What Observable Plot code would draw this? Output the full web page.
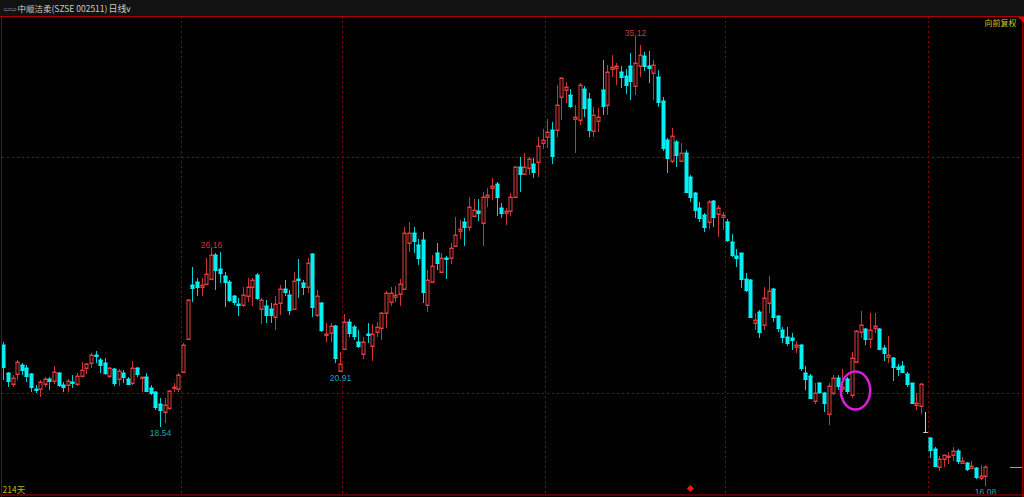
<!DOCTYPE html>
<html><head><meta charset="utf-8">
<script src="https://cdn.jsdelivr.net/npm/d3@7"></script>
<script src="https://cdn.jsdelivr.net/npm/@observablehq/plot@0.6"></script>
<style>html,body{margin:0;padding:0;background:#000;overflow:hidden}</style>
</head><body><div id="chart"></div>
<script>
const opens = [22.03,20.86,20.38,20.81,21.19,21.05,20.79,20.18,20.16,20.38,
20.61,20.52,20.86,20.34,20.34,20.48,20.37,20.74,21.05,21.26,
21.62,21.40,21.26,20.72,21.00,20.58,20.83,20.58,20.44,21.07,
20.62,20.69,20.21,20.06,19.53,19.21,19.35,20.20,20.16,20.90,
22.28,24.58,24.72,24.51,24.62,24.83,25.85,25.24,24.97,24.72,
24.11,23.77,23.73,24.11,24.48,25.00,23.55,23.69,23.55,23.24,
23.83,24.40,24.16,23.55,24.83,24.65,24.51,25.89,23.31,23.83,
22.45,22.53,22.84,20.95,21.85,23.02,22.78,22.18,21.65,22.50,
22.01,22.60,22.77,23.38,23.87,24.06,24.18,24.39,26.37,26.77,
26.27,26.49,23.73,24.72,25.92,25.14,25.74,25.71,26.25,26.85,
27.25,27.05,27.50,27.70,27.19,28.32,28.67,28.86,27.83,27.62,
27.70,28.32,29.59,29.28,29.52,29.70,29.80,30.58,30.86,31.14,
31.14,32.53,32.84,32.63,31.62,31.57,32.87,32.44,31.12,31.53,
32.84,32.20,33.72,33.79,33.59,33.44,33.86,32.99,33.86,34.26,
33.86,33.55,33.38,32.39,30.72,29.84,30.65,29.85,30.19,29.14,
28.49,27.83,27.54,27.26,28.14,27.59,27.45,27.26,26.41,25.82,
25.92,24.82,24.79,22.98,23.44,22.88,23.80,24.39,23.26,22.67,
22.39,22.31,21.96,22.03,20.86,20.72,19.67,20.41,19.98,19.11,
20.01,20.62,20.15,20.58,19.91,21.33,22.60,22.70,22.27,22.74,
22.70,21.89,21.51,21.47,21.11,21.15,20.81,20.41,19.50,19.45,
18.35,18.11,17.62,16.88,17.19,17.28,17.36,17.55,17.02,17.02,
16.81,16.81,16.39,16.49];
const closes = [21.09,20.52,20.62,21.30,20.97,20.72,20.27,20.13,20.48,20.58,
20.52,20.90,20.34,20.24,20.51,20.44,20.72,20.97,21.22,21.61,
21.57,21.20,20.86,21.05,20.44,20.92,20.66,20.38,21.07,20.81,
20.66,20.10,20.02,19.42,19.28,19.49,20.09,20.24,20.76,22.03,
23.94,24.44,24.51,24.58,25.05,25.85,25.22,25.10,24.72,23.94,
23.87,23.75,24.16,24.51,24.79,24.01,23.92,23.31,23.31,23.77,
24.40,24.30,23.52,24.75,24.79,24.48,25.50,23.66,24.13,22.67,
22.50,22.86,21.49,21.22,23.02,22.56,22.42,22.01,22.18,22.46,
22.50,22.78,23.38,24.23,24.25,24.17,24.62,26.80,26.77,26.46,
25.71,24.30,24.79,25.38,25.50,25.71,25.69,26.13,26.70,26.97,
27.05,27.87,27.76,27.64,28.32,28.39,28.77,28.32,27.62,27.73,
28.32,29.56,29.27,29.56,29.90,29.38,30.47,30.72,31.07,30.04,
32.20,33.33,32.95,32.16,31.68,33.05,32.06,31.14,31.78,31.71,
32.17,33.62,33.80,33.86,33.41,33.06,33.24,34.00,34.33,33.86,
33.76,33.90,32.35,30.37,29.94,30.89,30.08,30.16,28.53,28.32,
27.76,27.40,27.05,28.11,27.45,27.83,27.53,26.49,25.85,25.74,
24.82,24.37,23.24,23.09,22.60,24.01,24.33,23.23,22.74,22.39,
22.10,22.24,22.03,21.04,20.58,19.80,20.01,20.05,19.59,20.29,
20.62,20.29,20.27,20.10,21.47,22.64,22.88,22.27,22.67,22.84,
21.85,21.68,21.61,21.11,21.03,20.91,20.39,19.57,19.59,20.37,
18.35,17.59,16.91,17.21,17.36,17.33,17.55,17.14,17.11,16.80,
16.91,16.46,16.49,16.88];
const highs = [22.18,20.90,20.76,21.40,21.26,21.19,20.83,20.34,20.55,20.69,
20.69,21.14,20.90,20.48,20.58,20.76,20.83,21.33,21.29,21.68,
21.79,21.47,21.47,21.12,21.05,21.00,20.97,20.69,21.37,21.12,
20.66,20.83,20.34,20.10,19.77,19.77,20.13,20.41,20.86,22.11,
23.99,25.36,24.86,24.86,25.71,26.16,25.92,25.99,25.14,24.79,
24.16,24.01,24.51,24.86,24.86,25.10,24.01,23.94,23.80,24.09,
24.58,24.79,24.37,25.14,25.67,24.79,25.71,25.95,24.37,23.87,
22.96,22.98,22.88,21.75,23.35,23.12,22.88,22.67,22.39,22.98,
22.93,23.02,23.45,24.34,24.48,24.54,24.82,27.02,27.26,27.02,
26.51,26.84,25.21,25.85,26.37,25.92,25.81,26.37,27.45,27.33,
27.40,28.30,28.20,28.20,28.53,28.67,29.10,28.95,28.04,27.83,
28.46,29.62,29.99,30.16,29.99,29.94,30.86,31.17,31.60,31.50,
33.05,33.40,33.19,32.87,32.20,33.12,33.01,32.70,32.13,32.06,
34.11,33.90,34.33,34.00,33.87,33.73,34.40,35.12,34.75,34.43,
34.51,34.09,33.69,32.56,30.79,31.21,30.72,30.58,30.30,29.24,
28.53,28.11,27.62,28.18,28.18,27.97,27.69,27.36,26.74,26.09,
25.95,25.07,24.82,23.37,23.52,24.48,24.96,24.43,23.30,22.78,
22.81,22.55,22.22,22.07,21.14,20.80,20.44,20.48,20.05,20.44,
20.76,20.76,21.00,20.66,21.75,22.67,23.49,22.74,23.40,23.40,
22.74,22.03,22.41,21.54,21.23,21.37,20.91,20.44,19.99,20.41,
19.21,18.15,17.73,17.31,17.38,17.48,17.70,17.62,17.28,17.09,
17.14,16.85,16.95,16.95];
const lows = [20.55,20.24,20.27,20.55,20.76,20.48,20.06,19.99,19.85,20.27,
20.13,20.38,20.27,20.06,20.06,20.20,20.30,20.66,20.81,21.05,
21.26,20.86,20.76,20.62,20.30,20.30,20.41,20.37,20.34,20.69,
20.06,20.06,19.92,19.28,18.54,18.74,19.28,20.06,20.06,20.90,
22.25,23.87,24.09,24.09,24.58,24.79,24.37,24.65,23.66,23.87,
23.73,23.27,23.66,23.87,23.69,23.94,22.93,22.98,22.98,22.67,
23.31,24.09,23.31,23.52,24.01,24.16,24.23,23.21,23.21,22.60,
22.18,22.18,21.26,20.91,21.82,22.36,22.25,21.89,21.43,22.13,
21.36,22.39,22.25,22.74,23.69,23.87,23.69,24.37,25.99,25.92,
25.43,23.83,23.45,24.72,25.21,25.07,24.82,25.47,26.25,26.51,
26.23,26.88,27.45,27.30,26.23,27.90,28.18,27.50,27.40,27.12,
27.50,28.25,28.53,29.24,29.24,29.10,29.17,30.33,30.37,29.70,
30.86,31.57,32.27,32.06,30.16,31.36,31.71,30.86,30.86,31.07,
31.78,31.78,33.41,33.06,32.91,32.67,32.42,32.63,33.41,33.66,
33.15,32.42,32.11,30.27,29.31,29.73,29.56,29.80,28.46,28.11,
27.40,27.26,26.84,26.94,27.05,26.63,26.91,26.41,25.78,25.36,
24.44,24.30,23.21,22.67,22.31,22.67,23.37,23.02,22.60,22.13,
21.99,21.82,21.68,20.94,20.12,19.77,19.53,19.96,19.21,18.64,
19.91,20.13,20.05,19.96,19.77,21.28,22.31,22.03,21.89,22.53,
21.82,21.37,21.28,20.52,20.72,20.84,20.27,19.54,19.28,19.11,
18.34,17.24,16.88,16.71,16.88,17.00,17.14,17.00,17.00,16.71,
16.77,16.35,16.32,16.08];

const monthBreaks = [38.5, 73.5, 117.5, 156.5, 200.5];
const gridPrices = [20, 30];
const highLabels = [{i: 45, v: 26.16}, {i: 137, v: 35.12}];
const lowLabels = [{i: 34, v: 18.54}, {i: 73, v: 20.91}, {i: 213, v: 16.08}];
const titleText = "中顺洁柔(SZSE 002511)";
const periodText = "日线";
const adjustText = "向前复权";
const dayCountText = "214天";
const markerIndex = [149];
const circled = [{i: 184.75, v: 20.13}];

const candles = opens.map((o, i) => ({i, open: o, close: closes[i], high: highs[i], low: lows[i]}));
const UP = "#e03c3c", DOWN = "#00f0f4", FLAT = "#d0d0d0";
const UPW = "#cc3434", DOWNW = "#00d2d8";
const bodyColor = d => d.close > d.open ? UP : d.close < d.open ? DOWN : FLAT;
const wickColor = d => d.close > d.open ? UPW : d.close < d.open ? DOWNW : FLAT;
const bodyFill = d => d.close > d.open ? "#000" : bodyColor(d);

const ellipse = {draw(ctx, size) {
  const r = Math.sqrt(size / Math.PI), rx = r, ry = r * 1.3, k = 0.5523;
  ctx.moveTo(rx, 0);
  ctx.bezierCurveTo(rx, ry * k, rx * k, ry, 0, ry);
  ctx.bezierCurveTo(-rx * k, ry, -rx, ry * k, -rx, 0);
  ctx.bezierCurveTo(-rx, -ry * k, -rx * k, -ry, 0, -ry);
  ctx.bezierCurveTo(rx * k, -ry, rx, -ry * k, rx, 0);
  ctx.closePath();
}};

const lastClose = [closes[closes.length - 1]];

const chart = Plot.plot({
  width: 1024, height: 497,
  marginTop: 16, marginBottom: 4, marginLeft: 2, marginRight: 2,
  style: {background: "transparent", overflow: "visible"},
  x: {type: "linear", domain: [-0.282, 220.96], axis: null, round: true},
  y: {type: "linear", domain: [15.763, 35.975], axis: null, round: true},
  marks: [
    Plot.ruleY(gridPrices, {stroke: "#8c0000", strokeDasharray: "2,3"}),
    Plot.ruleX(monthBreaks, {stroke: "#8c0000", strokeDasharray: "2,3"}),
    Plot.ruleX(candles, {x: "i", y1: "low", y2: "high", stroke: wickColor}),
    Plot.rect(candles, {x1: "i", x2: "i", y1: "open", y2: "close", insetLeft: -1, insetRight: -2, fill: bodyFill, stroke: bodyColor}),
    Plot.ruleY(candles, {y: "close", x1: "i", x2: "i", insetLeft: -1.5, insetRight: -2.5, stroke: bodyColor}),
    Plot.ruleY(candles, {y: "open", x1: "i", x2: "i", insetLeft: -1.5, insetRight: -2.5, stroke: bodyColor}),
    Plot.ruleY(lastClose, {stroke: "#b8b800", insetLeft: 1008}),
    Plot.text(highLabels, {x: "i", y: "v", text: d => d.v.toFixed(2), fill: "#c83c3c", lineAnchor: "bottom", dy: -1, fontSize: 8.5, fontFamily: "Liberation Sans"}),
    Plot.text(lowLabels, {x: "i", y: "v", text: d => d.v.toFixed(2), fill: "#1aa6b8", lineAnchor: "top", dy: 2, fontSize: 8.5, fontFamily: "Liberation Sans"}),
    Plot.dot(markerIndex, {x: d => d, y: () => 15.98, symbol: "diamond2", r: 3.2, fill: "#ff1010", stroke: "none"}),
    Plot.dot(circled, {x: "i", y: "v", r: 14.7, symbol: ellipse, stroke: "#d81ed8", strokeWidth: 2.5, fill: "none"}),
    Plot.text([adjustText], {frameAnchor: "top-right", dx: -6, dy: 6.5, lineAnchor: "middle", textAnchor: "end", fill: "#c8c828", fontSize: 8, fontFamily: "Noto Sans CJK SC"}),
    Plot.text([dayCountText], {frameAnchor: "bottom-left", dx: 0, dy: -3, lineAnchor: "middle", textAnchor: "start", fill: "#b8b800", fontSize: 8.5, fontFamily: "Noto Sans CJK SC"}),
    Plot.text([titleText], {frameAnchor: "top-left", dx: 15, dy: -7.5, lineAnchor: "middle", textAnchor: "start", fill: "#c8c8c8", fontSize: 8.5, fontFamily: "Noto Sans CJK SC"}),
    Plot.text([periodText], {frameAnchor: "top-left", dx: 106, dy: -7.5, lineAnchor: "middle", textAnchor: "start", fill: "#c8c8c8", fontSize: 9, fontFamily: "Noto Sans CJK SC"}),
    Plot.text(["∨"], {frameAnchor: "top-left", dx: 123, dy: -7.5, lineAnchor: "middle", textAnchor: "start", fill: "#c8c8c8", fontSize: 8, fontFamily: "DejaVu Sans"}),
    Plot.text(["▭▭"], {frameAnchor: "top-left", dx: 1, dy: -7.5, lineAnchor: "middle", textAnchor: "start", fill: "#a0a0a0", fontSize: 7, fontFamily: "DejaVu Sans"})
  ]
});

const svg = d3.select(chart);
svg.insert("rect", ":first-child").attr("x", 0).attr("y", 0).attr("width", 1024).attr("height", 16).attr("fill", "#121212");
svg.insert("rect", ":first-child").attr("x", 0).attr("y", 0).attr("width", 1024).attr("height", 497).attr("fill", "#000");
const border = svg.append("g").attr("fill", "none");
border.append("line").attr("x1", 0).attr("x2", 1024).attr("y1", 16.5).attr("y2", 16.5).attr("stroke", "#b00000");
border.append("line").attr("x1", 1.5).attr("x2", 1.5).attr("y1", 16).attr("y2", 497).attr("stroke", "#8c0000");
border.append("line").attr("x1", 1022.5).attr("x2", 1022.5).attr("y1", 16).attr("y2", 497).attr("stroke", "#8c0000");
border.append("line").attr("x1", 0).attr("x2", 1024).attr("y1", 495).attr("y2", 495).attr("stroke", "#5a0000").attr("stroke-width", 2);
svg.append("path").attr("d", "M1018,17L1024,17L1024,23Z").attr("fill", "#e00000");
document.getElementById("chart").appendChild(chart);
</script>
</body></html>
